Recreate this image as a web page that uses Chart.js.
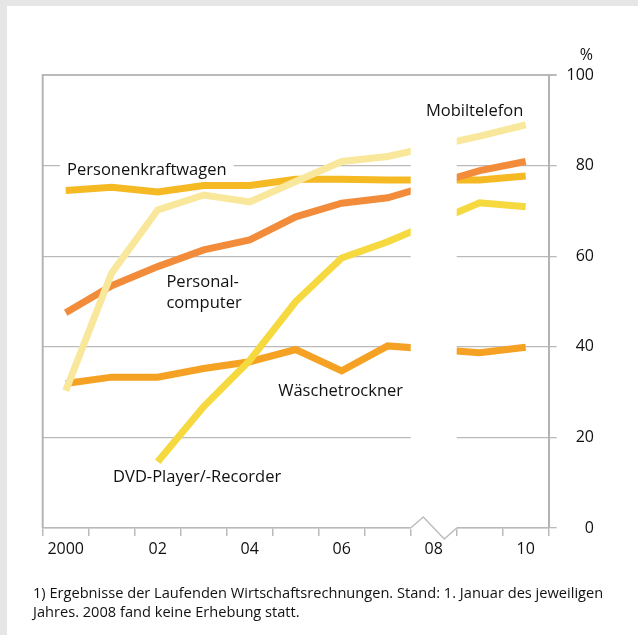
<!DOCTYPE html>
<html>
<head>
<meta charset="utf-8">
<script src="https://cdn.jsdelivr.net/npm/chart.js@4.4.0/dist/chart.umd.min.js"></script>
<style>
  body { margin: 0; background: #e6e6e6; font-family: "Open Sans", sans-serif; }
  #panel { position: absolute; left: 7px; top: 6px; width: 631px; height: 629px; background: #fff; }
</style>
</head>
<body>
<div id="panel"><canvas id="c" width="631" height="629"></canvas></div>
<script>
// years (2008: no survey -> null, line spans the gap)
const years = ['2000','2001','2002','2003','2004','2005','2006','2007','2008','2009','2010'];
const xTickLabels = ['2000','','02','','04','','06','','08','','10'];

const mobiltelefon = [30.3, 56.3, 70.2, 73.5, 72.0, 76.5, 80.9, 82.0, null, 86.5, 89.0];
const dvdPlayer    = [null, null, 14.6, 26.8, 37.0, 50.0, 59.6, 63.2, null, 71.8, 70.9];
const computer     = [47.5, 53.5, 57.7, 61.4, 63.6, 68.7, 71.7, 72.9, null, 78.9, 80.9];
const pkw          = [74.5, 75.2, 74.2, 75.6, 75.6, 77.0, 77.0, 76.8, null, 76.8, 77.7];
const trockner     = [31.9, 33.3, 33.3, 35.2, 36.7, 39.4, 34.7, 40.2, null, 38.7, 39.9];

// series labels: [text, x index, y value] (left aligned, baseline)
const seriesLabels = [
  ['Personenkraftwagen', 0.03, 77.9],
  ['Mobiltelefon', 7.83, 90.9],
  ['Personal-', 2.19, 53.3],
  ['computer', 2.19, 48.6],
  ['Wäschetrockner', 4.62, 29.1],
  ['DVD-Player/-Recorder', 1.03, 10.2]
];

const footnote = [
  '1) Ergebnisse der Laufenden Wirtschaftsrechnungen. Stand: 1. Januar des jeweiligen',
  'Jahres. 2008 fand keine Erhebung statt.'
];

const gridColor = '#bababa';
const textColor = '#111';

function line(data, color) {
  return {
    data: data,
    borderColor: color,
    borderWidth: 7,
    borderCapStyle: 'butt',
    borderJoinStyle: 'miter',
    pointRadius: 0,
    tension: 0,
    spanGaps: true,
    fill: false
  };
}

const decor = {
  id: 'decor',
  afterDatasetsDraw(chart) {
    const ctx = chart.ctx;
    const a = chart.chartArea;
    const x = chart.scales.x, y = chart.scales.y;

    // left frame line
    ctx.save();
    ctx.strokeStyle = '#b5b5b5';
    ctx.lineWidth = 2;
    ctx.beginPath();
    ctx.moveTo(a.left, a.top - 1);
    ctx.lineTo(a.left, a.bottom);
    ctx.stroke();

    // white band over 2008
    const x0 = x.getPixelForValue(7.5), x1 = x.getPixelForValue(8.5);
    ctx.fillStyle = '#fff';
    ctx.fillRect(x0, a.top + 1.5, x1 - x0, a.bottom - a.top);

    // axis break zigzag
    ctx.strokeStyle = '#bdbdbd';
    ctx.lineWidth = 1.5;
    ctx.beginPath();
    ctx.moveTo(x0, a.bottom);
    ctx.lineTo(x0 + 12.6, a.bottom - 11);
    ctx.lineTo(x0 + 33.6, a.bottom + 11);
    ctx.lineTo(x1, a.bottom);
    ctx.stroke();

    // labels
    ctx.font = '16.5px "Open Sans"';
    ctx.textBaseline = 'alphabetic';
    ctx.textAlign = 'left';
    seriesLabels.forEach(([t, xi, yv], i) => {
      const px = x.getPixelForValue(xi), py = y.getPixelForValue(yv);
      if (i === 0) {
        const w = ctx.measureText(t).width;
        ctx.fillStyle = '#fff';
        ctx.fillRect(px - 7, py - 16, w + 14, 14);
      }
      ctx.fillStyle = textColor;
      ctx.fillText(t, px, py);
    });

    // unit
    ctx.font = '16px "Open Sans"';
    ctx.textAlign = 'right';
    ctx.fillText('%', 586, 54);

    // footnote, sized so the first line spans ~570px
    ctx.textAlign = 'left';
    ctx.font = '14px "Open Sans"';
    const fs = 14 * 570 / ctx.measureText(footnote[0]).width;
    ctx.font = fs.toFixed(2) + 'px "Open Sans"';
    ctx.fillText(footnote[0], 26, 591.5);
    ctx.fillText(footnote[1], 26, 610.5);
    ctx.restore();
  }
};

new Chart(document.getElementById('c'), {
  type: 'line',
  data: {
    labels: years,
    datasets: [
      line(mobiltelefon, '#f9e89b'),
      line(dvdPlayer, '#f5d93e'),
      line(computer, '#f28c3a'),
      line(pkw, '#f4b923'),
      line(trockner, '#f5a123')
    ]
  },
  options: {
    responsive: false,
    animation: false,
    layout: { padding: { top: 69, left: 35.7, right: 44, bottom: 69 } },
    plugins: { legend: { display: false }, tooltip: { enabled: false } },
    scales: {
      x: {
        type: 'category',
        offset: true,
        grid: { offset: true, drawOnChartArea: false, drawTicks: true, tickLength: 8, color: gridColor, lineWidth: 1.5 },
        border: { display: true, color: gridColor, width: 1.5 },
        ticks: {
          autoSkip: false, maxRotation: 0, padding: 4,
          color: textColor, font: { family: 'Open Sans', size: 16 },
          callback: (v, i) => xTickLabels[i]
        },
        afterFit: s => { s.height = 38; }
      },
      y: {
        position: 'right',
        min: 0, max: 100,
        ticks: { stepSize: 20, padding: 9.5, crossAlign: 'far', color: textColor, font: { family: 'Open Sans', size: 16 } },
        grid: { color: gridColor, lineWidth: c => (c.tick && c.tick.value === 100 ? 2 : 1.3), tickLength: 8 },
        border: { display: true, color: '#b3b3b3', width: 2 },
        afterFit: s => { s.width = 45.3; }
      }
    }
  },
  plugins: [decor]
});
</script>
</body>
</html>
